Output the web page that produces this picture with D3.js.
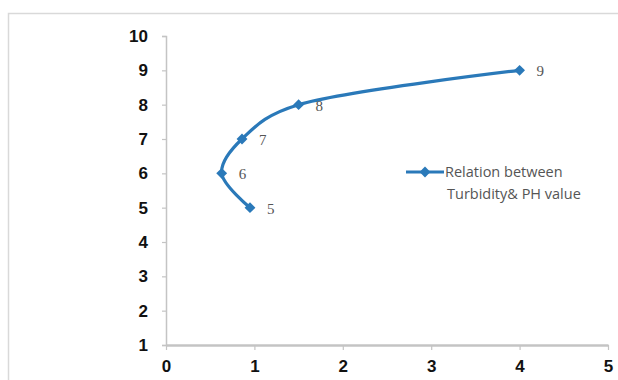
<!DOCTYPE html>
<html>
<head>
<meta charset="utf-8">
<script src="https://cdn.jsdelivr.net/npm/d3@7"></script>
<style>
  html, body { margin: 0; padding: 0; background: #fff; }
  svg { display: block; }
</style>
</head>
<body>
<svg id="chart" width="618" height="380"></svg>
<script>
// Turbidity (x) against pH value (y)
const turbidity = [0.95, 0.63, 0.86, 1.5, 4.0];
const phValue = [5, 6, 7, 8, 9];
const pointLabels = ["5", "6", "7", "8", "9"];
const xTicks = [0, 1, 2, 3, 4, 5];
const yTicks = [1, 2, 3, 4, 5, 6, 7, 8, 9, 10];
const seriesName = ["Relation between", "Turbidity& PH value"];

const svg = d3.select("#chart");
const blue = "#2a79b9";
const axisGrey = "#c4c4c4";

// outer chart frame (runs off the right and bottom edges)
svg.append("rect")
  .attr("x", 8.5).attr("y", 13.5)
  .attr("width", 640).attr("height", 400)
  .attr("fill", "none").attr("stroke", "#d9d9d9").attr("stroke-width", 1.5);

const x = d3.scaleLinear().domain([0, 5]).range([166, 608]);
const y = d3.scaleLinear().domain([1, 10]).range([345, 36]);

const axisFont = "'Liberation Sans', Arial, sans-serif";

// y axis
const yAxis = d3.axisLeft(y).tickValues(yTicks).tickFormat(d3.format("d"))
  .tickSize(4).tickPadding(14);
const gy = svg.append("g").attr("transform", `translate(${x(0)},0)`).call(yAxis);
gy.select(".domain").attr("stroke", axisGrey).attr("stroke-width", 1.5);
gy.selectAll(".tick line").attr("stroke", axisGrey).attr("stroke-width", 1.2);
gy.selectAll(".tick text")
  .attr("font-family", axisFont)
  .attr("font-weight", "bold").attr("font-size", 17).attr("fill", "#111");

// x axis
const xAxis = d3.axisBottom(x).tickValues(xTicks).tickFormat(d3.format("d"))
  .tickSize(5).tickPadding(10).tickSizeOuter(0);
const gx = svg.append("g").attr("transform", `translate(0,${y(1)})`).call(xAxis);
gx.select(".domain").attr("stroke", axisGrey).attr("stroke-width", 2.5);
gx.selectAll(".tick line").attr("stroke", axisGrey).attr("stroke-width", 1.2);
gx.selectAll(".tick text")
  .attr("font-family", axisFont)
  .attr("font-weight", "bold").attr("font-size", 17).attr("fill", "#111");

// smoothed series line
const pts = turbidity.map((t, i) => ({ t, p: phValue[i], label: pointLabels[i] }));
const line = d3.line()
  .x(d => x(d.t)).y(d => y(d.p))
  .curve(d3.curveCatmullRom.alpha(0.25));
svg.append("path").datum(pts)
  .attr("d", line)
  .attr("fill", "none").attr("stroke", blue)
  .attr("stroke-width", 3.2).attr("stroke-linejoin", "round");

// diamond markers
const diamond = d3.symbol().type(d3.symbolDiamond2).size(75);
svg.selectAll(".marker").data(pts).join("path")
  .attr("class", "marker")
  .attr("d", diamond)
  .attr("transform", d => `translate(${x(d.t)},${y(d.p)})`)
  .attr("fill", blue);

// point value labels
svg.selectAll(".plabel").data(pts).join("text")
  .attr("class", "plabel")
  .attr("x", d => x(d.t) + 17)
  .attr("y", d => y(d.p) + 6)
  .attr("font-family", "'Liberation Serif', 'DejaVu Serif', serif")
  .attr("font-size", 15).attr("fill", "#555")
  .text(d => d.label);

// legend
const lg = svg.append("g").attr("transform", "translate(406,172)");
lg.append("line").attr("x1", 0).attr("x2", 38).attr("y1", 0).attr("y2", 0)
  .attr("stroke", blue).attr("stroke-width", 3);
lg.append("path").attr("d", diamond).attr("transform", "translate(19,0)").attr("fill", blue);
lg.selectAll("text").data(seriesName).join("text")
  .attr("x", (d, i) => i === 0 ? 39 : 41)
  .attr("y", (d, i) => 5 + i * 22)
  .attr("font-family", "'Open Sans', 'Liberation Sans', sans-serif")
  .attr("font-size", 14.5).attr("fill", "#555")
  .text(d => d);
</script>
</body>
</html>
